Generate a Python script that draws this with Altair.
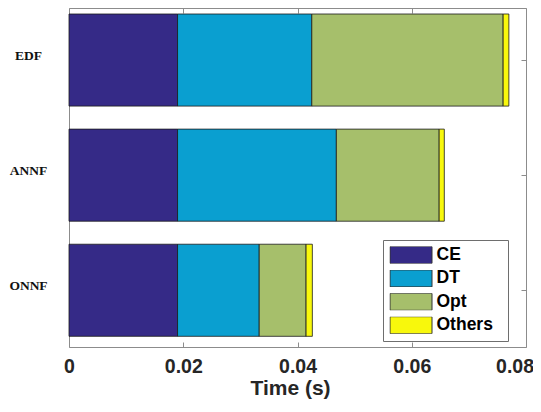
import altair as alt
import pandas as pd

categories = ["EDF", "ANNF", "ONNF"]
segments = ["CE", "DT", "Opt", "Others"]
ce = [0.0190, 0.0190, 0.0190]
dt = [0.0235, 0.0278, 0.0143]
opt = [0.0335, 0.0180, 0.0082]
others = [0.0010, 0.0009, 0.0011]
colors = ["#352a87", "#0a9fd0", "#a6bf6b", "#f8f80c"]
x_ticks = [0, 0.02, 0.04, 0.06, 0.08]

rows = []
for i, c in enumerate(categories):
    for j, (s, vals) in enumerate(zip(segments, [ce, dt, opt, others])):
        rows.append({"cat": c, "seg": s, "ord": j, "t": vals[i]})
df = pd.DataFrame(rows)

FRAME = "#8c8c8c"
NB = "\u00a0"
xscale = alt.Scale(domain=[0, 0.08], nice=False, zero=True)
yscale = alt.Scale(domain=categories, paddingInner=0.2, paddingOuter=0.0725, align=0.36)

label_expr = ("datum.value == 0 ? '0' : (datum.value > 0.07 ? '0.08' : format(datum.value, '.2f') + '"
              + NB + NB + "')")

bars = alt.Chart(df).mark_bar(stroke="#1a1a1a", strokeWidth=0.8).encode(
    x=alt.X("t:Q", stack="zero", scale=xscale,
            axis=alt.Axis(orient="bottom", values=x_ticks, labelExpr=label_expr,
                          labelOffset={"condition": {"test": "datum.value > 0.07", "value": -11.5},
                                       "value": 0},
                          offset=-5, tickSize=5, tickColor=FRAME, domain=False, grid=False,
                          labelFont="Liberation Sans", labelFontWeight="bold", labelFontSize=19.5,
                          labelColor="#262626", labelBaseline="alphabetic", labelPadding=25.5,
                          labelFlush=False, labelOverlap=False,
                          title="Time (s)", titleFont="Liberation Sans", titleFontWeight="bold",
                          titleFontSize=21, titleColor="#262626", titleX=221, titleY=52.5,
                          titleAlign="center", titleBaseline="alphabetic")),
    y=alt.Y("cat:N", scale=yscale, sort=categories,
            axis=alt.Axis(orient="left", ticks=False, tickSize=0, domain=False, grid=False,
                          labelAlign="center", labelPadding=41, labelBaseline="alphabetic",
                          labelFont="Liberation Serif", labelFontWeight="bold", labelFontSize=13.5,
                          labelColor="#111111", title=None)),
    color=alt.Color("seg:N", scale=alt.Scale(domain=segments, range=colors),
                    legend=alt.Legend(orient="none", legendX=314, legendY=232,
                                      title=".", titleOrient="right", titlePadding=8,
                                      titleFontSize=2, titleColor="white", titleOpacity=0,
                                      symbolType="M-1,-0.4048L1,-0.4048L1,0.4048L-1,0.4048Z",
                                      symbolSize=1764, symbolStrokeColor="#333333",
                                      symbolStrokeWidth=1, symbolOpacity=1,
                                      labelFont="Liberation Sans", labelFontWeight="bold",
                                      labelFontSize=17.5, labelColor="#000000", labelOffset=4,
                                      clipHeight=17, rowPadding=5.4, padding=6.5,
                                      strokeColor="#6e6e6e", fillColor="white")),
    order=alt.Order("ord:Q"),
)

frame_axes = alt.Chart(df).mark_bar(opacity=0, strokeOpacity=0).encode(
    x=alt.X("t:Q", stack="zero", scale=xscale,
            axis=alt.Axis(orient="top", values=x_ticks, labels=False, offset=-5, tickSize=5,
                          tickColor=FRAME, domain=False, grid=False, title=None)),
    y=alt.Y("cat:N", scale=yscale, sort=categories,
            axis=alt.Axis(orient="right", labels=False, offset=-5, tickSize=5,
                          tickColor=FRAME, domain=False, grid=False, title=None)),
)

chart = alt.layer(frame_axes, bars).resolve_axis(x="independent", y="independent").properties(
    width=457, height=339,
    autosize=alt.AutoSizeParams(type="none"),
    padding={"left": 61, "top": 0, "right": 7, "bottom": 54},
    background="white",
).configure_view(stroke=FRAME, strokeWidth=1)

chart.save("out.html", embed_options={"renderer": "svg", "actions": False})
